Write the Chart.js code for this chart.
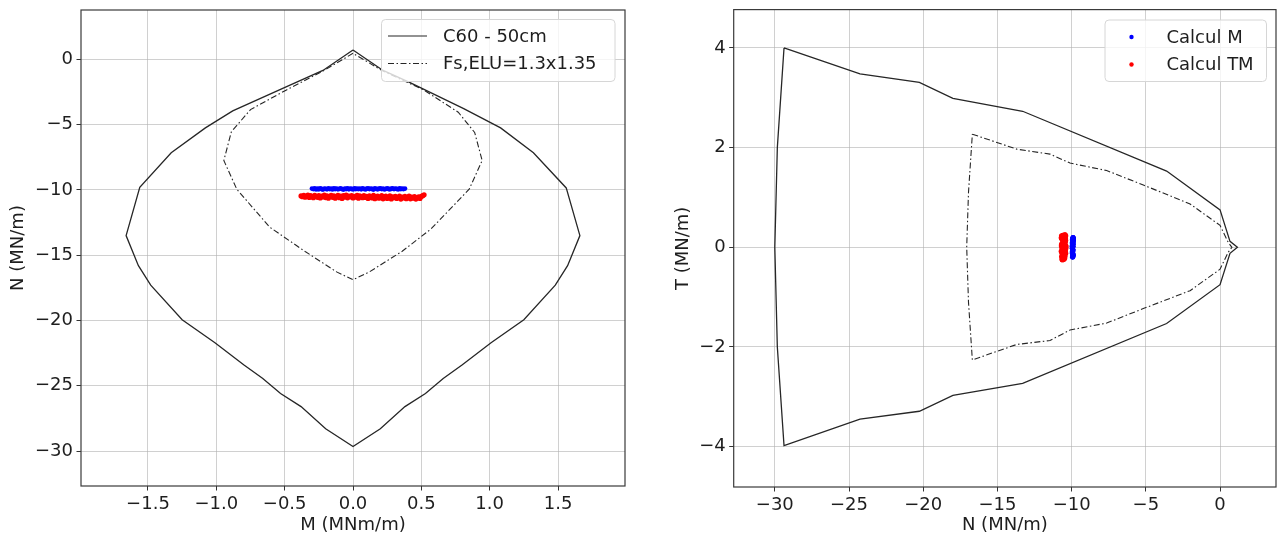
<!DOCTYPE html>
<html><head><meta charset="utf-8">
<script src="https://cdn.jsdelivr.net/npm/chart.js@4.4.1/dist/chart.umd.min.js"></script>
<style>
html,body{margin:0;padding:0;background:#fff;width:1277px;height:536px;overflow:hidden}
.w{position:absolute;top:0}
</style></head><body>
<div class="w" style="left:0;width:640px;height:536px"><canvas id="c1" width="640" height="536"></canvas></div>
<div class="w" style="left:640px;width:637px;height:536px"><canvas id="c2" width="637" height="536"></canvas></div>
<script>
// ---------------- DATA ----------------
// Left plot: interaction diagram M-N
const outerM = [0, -0.22, -0.51, -0.88, -1.08, -1.33, -1.56, -1.66, -1.57, -1.48, -1.25, -1.01, -0.80, -0.66, -0.53, -0.38, -0.20, 0,
                0.20, 0.38, 0.53, 0.66, 0.80, 1.01, 1.25, 1.48, 1.57, 1.66, 1.56, 1.32, 1.08, 0.81, 0.41, 0.22, 0];
const outerN = [0.72, -0.85, -2.2, -3.95, -5.25, -7.15, -9.8, -13.5, -15.8, -17.3, -19.95, -21.7, -23.4, -24.45, -25.6, -26.6, -28.3, -29.65,
                -28.3, -26.6, -25.6, -24.45, -23.4, -21.7, -19.95, -17.3, -15.8, -13.5, -9.85, -7.15, -5.25, -3.78, -1.74, -0.85, 0.72];
const innerM = [0, -0.22, -0.49, -0.75, -0.89, -0.945, -0.85, -0.61, -0.35, -0.12, 0,
                0.12, 0.36, 0.57, 0.85, 0.945, 0.89, 0.77, 0.52, 0.22, 0];
const innerN = [0.46, -0.9, -2.36, -3.85, -5.55, -7.75, -9.95, -12.85, -14.72, -16.28, -16.88,
                -16.28, -14.7, -13.0, -9.95, -7.75, -5.6, -4.05, -2.36, -0.9, 0.46];
// Right plot: N-T diagram
const outerNr = [-29.38, -24.26, -20.26, -18.0, -13.3, -3.6, 0, 0.67, 1.17, 0.67, 0, -3.6, -13.3, -18.0, -20.26, -24.26, -29.38, -29.83, -30.0, -29.83, -29.38];
const outerT  = [4.0, 3.48, 3.31, 2.99, 2.73, 1.53, 0.75, 0.12, 0, -0.12, -0.75, -1.53, -2.73, -2.97, -3.29, -3.45, -3.98, -2.0, 0, 2.0, 4.0];
const innerNr = [-16.69, -13.7, -11.46, -10.11, -7.64, -5.17, -2.02, 0, 0.55, 0.8, 0.55, 0, -2.02, -5.17, -7.64, -10.11, -11.46, -13.7, -16.69, -16.95, -17.07, -16.95, -16.69];
const innerT  = [2.27, 1.97, 1.87, 1.69, 1.54, 1.25, 0.87, 0.44, 0.1, 0, -0.1, -0.44, -0.87, -1.23, -1.52, -1.66, -1.87, -1.95, -2.26, -1.1, 0, 1.1, 2.27];
// Calcul M results (M, N, T)
const calcM_M = [-0.30,-0.29,-0.28,-0.27,-0.26,-0.25,-0.24,-0.23,-0.22,-0.21,
  -0.20,-0.19,-0.18,-0.17,-0.16,-0.15,-0.14,-0.13,-0.12,-0.11,
  -0.10,-0.09,-0.08,-0.07,-0.06,-0.05,-0.04,-0.03,-0.02,-0.01,
  0.00,0.01,0.02,0.03,0.04,0.05,0.06,0.07,0.08,0.09,
  0.10,0.11,0.12,0.13,0.14,0.15,0.16,0.17,0.18,0.19,
  0.20,0.21,0.22,0.23,0.24,0.25,0.26,0.27,0.28,0.29,
  0.30,0.31,0.32,0.33,0.34,0.35,0.36,0.37,0.38];
const calcM_N = [-9.90,-9.94,-9.88,-9.96,-9.91,-9.95,-9.89,-9.93,-9.97,-9.90,
  -9.92,-9.95,-9.88,-9.94,-9.91,-9.96,-9.89,-9.93,-9.90,-9.95,
  -9.92,-9.88,-9.94,-9.97,-9.91,-9.93,-9.89,-9.95,-9.90,-9.92,
  -9.96,-9.88,-9.93,-9.91,-9.94,-9.90,-9.95,-9.89,-9.92,-9.96,
  -9.91,-9.88,-9.94,-9.90,-9.93,-9.97,-9.89,-9.92,-9.95,-9.91,
  -9.88,-9.94,-9.90,-9.96,-9.92,-9.89,-9.93,-9.95,-9.91,-9.88,
  -9.94,-9.90,-9.92,-9.96,-9.89,-9.93,-9.91,-9.94,-9.90];
const calcM_T = [0.20,-0.18,0.15,-0.12,0.08,-0.20,0.18,-0.05,0.02,-0.15,
  0.12,-0.08,0.19,-0.19,0.05,-0.02,0.16,-0.14,0.10,-0.10,
  0.00,0.14,-0.17,0.07,-0.06,0.17,-0.13,0.03,-0.04,0.11,
  -0.09,0.13,-0.16,0.06,-0.11,0.09,-0.01,0.18,-0.19,0.04,
  -0.07,0.15,-0.03,0.20,-0.14,0.01,-0.18,0.12,-0.10,0.08,
  -0.16,0.19,-0.05,0.10,-0.20,0.06,-0.12,0.16,-0.08,0.02,
  0.14,-0.15,0.09,-0.02,0.17,-0.11,0.05,-0.17,0.11];
// Calcul TM results (M, N, T)
const calcTM_M = [-0.38,-0.37,-0.36,-0.35,-0.34,-0.33,-0.32,-0.31,-0.30,-0.29,
  -0.28,-0.27,-0.26,-0.25,-0.24,-0.23,-0.22,-0.21,-0.20,-0.19,
  -0.18,-0.17,-0.16,-0.15,-0.14,-0.13,-0.12,-0.11,-0.10,-0.09,
  -0.08,-0.07,-0.06,-0.05,-0.04,-0.03,-0.02,-0.01,0.00,0.01,
  0.02,0.03,0.04,0.05,0.06,0.07,0.08,0.09,0.10,0.11,
  0.12,0.13,0.14,0.15,0.16,0.17,0.18,0.19,0.20,0.21,
  0.22,0.23,0.24,0.25,0.26,0.27,0.28,0.29,0.30,0.31,
  0.32,0.33,0.34,0.35,0.36,0.37,0.38,0.39,0.40,0.41,
  0.42,0.43,0.44,0.45,0.46,0.47,0.48,0.49,0.50,0.51,
  0.52];
const calcTM_N = [-10.46,-10.52,-10.42,-10.56,-10.48,-10.40,-10.58,-10.44,-10.53,-10.60,
  -10.41,-10.50,-10.57,-10.43,-10.62,-10.47,-10.54,-10.39,-10.59,-10.45,
  -10.63,-10.51,-10.42,-10.57,-10.46,-10.64,-10.50,-10.41,-10.60,-10.48,
  -10.65,-10.44,-10.55,-10.40,-10.61,-10.47,-10.53,-10.43,-10.62,-10.49,
  -10.56,-10.41,-10.64,-10.46,-10.52,-10.60,-10.44,-10.58,-10.50,-10.66,
  -10.45,-10.55,-10.62,-10.42,-10.67,-10.51,-10.47,-10.63,-10.56,-10.44,
  -10.68,-10.52,-10.48,-10.65,-10.57,-10.46,-10.69,-10.54,-10.60,-10.49,
  -10.66,-10.58,-10.47,-10.70,-10.55,-10.62,-10.50,-10.67,-10.59,-10.48,
  -10.68,-10.56,-10.63,-10.52,-10.70,-10.60,-10.54,-10.66,-10.50,-10.44,
  -10.38];
const calcTM_T = [0.25,-0.24,0.18,-0.20,0.10,-0.12,0.22,-0.05,0.03,-0.25,
  0.14,-0.16,0.20,-0.08,0.06,-0.22,0.12,-0.02,0.24,-0.18,
  0.08,-0.10,0.16,-0.23,0.00,0.21,-0.14,0.04,-0.06,0.19,
  -0.21,0.11,-0.03,0.23,-0.15,0.07,-0.11,0.17,-0.19,0.02,
  -0.07,0.13,-0.24,0.09,-0.13,0.05,0.25,-0.17,0.15,-0.01,
  0.20,-0.22,0.01,-0.09,0.18,-0.04,0.11,-0.25,0.22,-0.12,
  0.06,-0.19,0.14,-0.06,0.24,-0.15,0.03,-0.21,0.09,-0.02,
  0.17,-0.23,0.12,-0.08,0.21,-0.13,0.04,-0.18,0.10,-0.10,
  0.23,-0.16,0.07,-0.03,0.19,-0.20,0.13,-0.11,0.16,-0.05,
  0.02];
// Ticks
const leftXTicks = [-1.5, -1.0, -0.5, 0.0, 0.5, 1.0, 1.5];
const leftXLabels = ['\u22121.5', '\u22121.0', '\u22120.5', '0.0', '0.5', '1.0', '1.5'];
const leftYTicks = [0, -5, -10, -15, -20, -25, -30];
const leftYLabels = ['0', '\u22125', '\u221210', '\u221215', '\u221220', '\u221225', '\u221230'];
const rightXTicks = [-30, -25, -20, -15, -10, -5, 0];
const rightXLabels = ['\u221230', '\u221225', '\u221220', '\u221215', '\u221210', '\u22125', '0'];
const rightYTicks = [4, 2, 0, -2, -4];
const rightYLabels = ['4', '2', '0', '\u22122', '\u22124'];
const seriesNames = ['C60 - 50cm', 'Fs,ELU=1.3x1.35'];
const calcNames = ['Calcul M', 'Calcul TM'];
const axisTitles = {leftX: 'M (MNm/m)', leftY: 'N (MN/m)', rightX: 'N (MN/m)', rightY: 'T (MN/m)'};

// ---------------- STYLE ----------------
const FONT = "'DejaVu Sans', 'Liberation Sans', sans-serif";
Chart.defaults.font.family = FONT;
Chart.defaults.font.size = 18;
Chart.defaults.color = '#1e1e1e';
const LINE = '#262626';
const DASH = [6, 2.5, 1.5, 2.5];
const GRID = 'rgba(176,176,176,0.6)';
const BLUE = '#0000ff', RED = '#ff0000';

const zip = (a, b) => a.map((v, i) => ({x: v, y: b[i]}));

function axis(min, max, ticks, labels, title, fitSize, horizontal, titlePad) {
  return {
    type: 'linear', min, max,
    afterBuildTicks: s => { s.ticks = ticks.map(v => ({value: v})); },
    afterFit: s => {
      if (horizontal) s.height = fitSize; else s.width = fitSize;
      s.paddingTop = 0; s.paddingBottom = 0; s.paddingLeft = 0; s.paddingRight = 0;
    },
    ticks: {autoSkip: false, maxRotation: 0, padding: horizontal ? 3 : 3.5, color: '#1e1e1e',
            font: {size: 18}, callback: (v, i) => labels[i]},
    grid: {color: GRID, lineWidth: 1, drawTicks: true, tickLength: 4.5, tickColor: '#333', tickWidth: 1},
    border: {display: false},
    title: {display: true, text: title, color: '#1e1e1e', font: {size: 18}, padding: titlePad}
  };
}

const framePlugin = {
  id: 'frame',
  afterDatasetsDraw(chart) {
    const {ctx, chartArea: a} = chart;
    ctx.save();
    ctx.strokeStyle = '#3a3a3a'; ctx.lineWidth = 1.2;
    ctx.strokeRect(a.left, a.top, a.right - a.left, a.bottom - a.top);
    ctx.restore();
  },
  afterDraw(chart) {
    const lg = chart.options.plugins.frame && chart.options.plugins.frame.legend;
    if (!lg) return;
    const ctx = chart.ctx;
    ctx.save();
    ctx.fillStyle = 'rgba(255,255,255,0.8)';
    ctx.strokeStyle = '#d6d6d6'; ctx.lineWidth = 1;
    ctx.beginPath();
    ctx.roundRect(lg.x, lg.y, lg.w, lg.h, 4);
    ctx.fill(); ctx.stroke();
    ctx.font = '18px ' + FONT;
    ctx.textBaseline = 'middle'; ctx.textAlign = 'left';
    lg.items.forEach(it => {
      if (it.type === 'line') {
        ctx.strokeStyle = LINE; ctx.lineWidth = 1.2;
        ctx.setLineDash(it.dash || []);
        ctx.beginPath(); ctx.moveTo(lg.sx0, it.y); ctx.lineTo(lg.sx1, it.y); ctx.stroke();
        ctx.setLineDash([]);
      } else {
        ctx.fillStyle = it.color;
        ctx.beginPath(); ctx.arc(lg.sx0, it.y, 2.2, 0, Math.PI * 2); ctx.fill();
      }
      ctx.fillStyle = '#1e1e1e';
      ctx.fillText(it.label, lg.tx, it.y + 1);
    });
    ctx.restore();
  }
};

const common = {
  responsive: false, animation: false, events: [],
  plugins: {legend: {display: false}, tooltip: {enabled: false}}
};

new Chart(document.getElementById('c1'), {
  type: 'scatter',
  data: {datasets: [
    {data: zip(outerM, outerN), showLine: true, borderColor: LINE, borderWidth: 1.3, pointRadius: 0, pointHoverRadius: 0, tension: 0},
    {data: zip(innerM, innerN), showLine: true, borderColor: LINE, borderWidth: 1.1, borderDash: DASH, pointRadius: 0, pointHoverRadius: 0, tension: 0},
    {data: zip(calcM_M, calcM_N), showLine: false, backgroundColor: BLUE, borderWidth: 0, pointRadius: 2.4},
    {data: zip(calcTM_M, calcTM_N), showLine: false, backgroundColor: RED, borderWidth: 0, pointRadius: 2.6}
  ]},
  options: Object.assign({}, common, {
    layout: {autoPadding: false, padding: {top: 10, right: 15, left: 0, bottom: 0}},
    scales: {
      x: axis(-1.99, 1.99, leftXTicks, leftXLabels, axisTitles.leftX, 50, true, {top: 0, bottom: 0}),
      y: axis(-32.68, 3.78, leftYTicks, leftYLabels, axisTitles.leftY, 81, false, {top: 7.6, bottom: 0})
    },
    plugins: Object.assign({}, common.plugins, {frame: {legend: {
      x: 381.5, y: 19.5, w: 233.5, h: 62, sx0: 388, sx1: 427, tx: 443,
      items: [{label: seriesNames[0], type: 'line', y: 36}, {label: seriesNames[1], type: 'line', dash: DASH, y: 63.5}]
    }}})
  }),
  plugins: [framePlugin]
});

new Chart(document.getElementById('c2'), {
  type: 'scatter',
  data: {datasets: [
    {data: zip(outerNr, outerT), showLine: true, borderColor: LINE, borderWidth: 1.3, pointRadius: 0, pointHoverRadius: 0, tension: 0},
    {data: zip(innerNr, innerT), showLine: true, borderColor: LINE, borderWidth: 1.1, borderDash: DASH, pointRadius: 0, pointHoverRadius: 0, tension: 0},
    {data: zip(calcM_N, calcM_T), showLine: false, backgroundColor: BLUE, borderWidth: 0, pointRadius: 2.4},
    {data: zip(calcTM_N, calcTM_T), showLine: false, backgroundColor: RED, borderWidth: 0, pointRadius: 2.6}
  ]},
  options: Object.assign({}, common, {
    layout: {autoPadding: false, padding: {top: 9.6, right: 1, left: 0, bottom: 0}},
    scales: {
      x: axis(-32.77, 3.77, rightXTicks, rightXLabels, axisTitles.rightX, 49, true, {top: 0, bottom: 0}),
      y: axis(-4.81, 4.77, rightYTicks, rightYLabels, axisTitles.rightY, 93.7, false, {top: 32.4, bottom: 0})
    },
    plugins: Object.assign({}, common.plugins, {frame: {legend: {
      x: 465, y: 20, w: 161.5, h: 61.5, sx0: 491.5, sx1: 0, tx: 526.5,
      items: [{label: calcNames[0], type: 'dot', color: BLUE, y: 37}, {label: calcNames[1], type: 'dot', color: RED, y: 64.5}]
    }}})
  }),
  plugins: [framePlugin]
});
</script>
</body></html>
